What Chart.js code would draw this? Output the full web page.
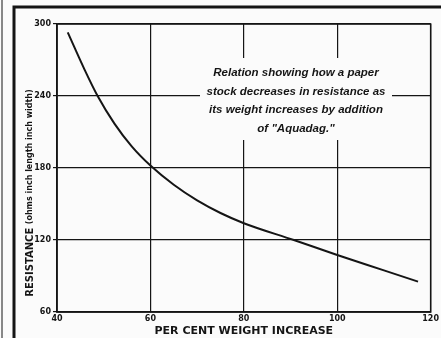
<!DOCTYPE html>
<html>
<head>
<meta charset="utf-8">
<script src="https://cdn.jsdelivr.net/npm/chart.js@4/dist/chart.umd.min.js"></script>
<style>
html,body{margin:0;padding:0;background:#fbfbfb;}
#wrap{width:441px;height:338px;position:relative;}
</style>
</head>
<body>
<div id="wrap"><canvas id="c" width="441" height="338"></canvas></div>
<script>
// Data
const weightIncrease = [42.3, 45.9, 48.7, 52.3, 56, 60, 65, 70, 75, 80, 90.7, 100, 110, 117.3];
const resistance     = [293, 262, 240, 217, 198, 182, 166, 153, 142.5, 134, 120, 107.5, 94.7, 85.3];
const xTitle = 'PER CENT WEIGHT INCREASE';
const yTitleCaps = 'RESISTANCE';
const yTitleRest = '(ohms inch length inch width)';
const noteLines = ['Relation showing how a paper', 'stock decreases in resistance as', 'its weight increases by addition', 'of "Aquadag."'];

const ink = '#151515';

const framePlugin = {
  id: 'frame',
  beforeDraw(chart) {
    const ctx = chart.ctx;
    ctx.save();
    ctx.fillStyle = '#fbfbfb';
    ctx.fillRect(0, 0, chart.width, chart.height);
    ctx.strokeStyle = ink;
    ctx.lineWidth = 3;
    ctx.beginPath();
    ctx.moveTo(14, 338); ctx.lineTo(14, 7); ctx.lineTo(441, 7);
    ctx.stroke();
    ctx.lineWidth = 1;
    ctx.beginPath();
    ctx.moveTo(2, 0); ctx.lineTo(2, 338);
    ctx.stroke();
    ctx.restore();
  },
  afterDatasetsDraw(chart) {
    const ctx = chart.ctx;
    const a = chart.chartArea;
    ctx.save();
    // plot border
    ctx.strokeStyle = ink;
    ctx.lineWidth = 1.5;
    ctx.strokeRect(a.left, a.top, a.right - a.left, a.bottom - a.top);
    // annotation box (blanks the grid behind the note)
    ctx.fillStyle = '#fbfbfb';
    ctx.fillRect(200, 58, 192, 82);
    ctx.fillStyle = ink;
    ctx.textAlign = 'center';
    ctx.textBaseline = 'middle';
    ctx.font = 'italic bold 11.5px "Liberation Sans"';
    const ys = [73, 92, 110, 129];
    noteLines.forEach((t, i) => ctx.fillText(t, 296, ys[i]));
    // y-axis title
    ctx.translate(30, 193);
    ctx.rotate(-Math.PI / 2);
    ctx.textAlign = 'left';
    ctx.font = 'bold 10px "DejaVu Sans"';
    const f2 = 'bold 8px "DejaVu Sans"';
    const w1 = ctx.measureText(yTitleCaps + ' ').width;
    ctx.font = f2;
    const w2 = ctx.measureText(yTitleRest).width;
    const start = -(w1 + w2) / 2;
    ctx.font = 'bold 10px "DejaVu Sans"';
    ctx.fillText(yTitleCaps, start, 0);
    ctx.font = f2;
    ctx.fillText(yTitleRest, start + w1, 0);
    ctx.restore();
  }
};

new Chart(document.getElementById('c'), {
  type: 'line',
  data: {
    datasets: [{
      data: weightIncrease.map((x, i) => ({x, y: resistance[i]})),
      borderColor: ink,
      borderWidth: 2,
      pointRadius: 0,
      cubicInterpolationMode: 'monotone',
      fill: false
    }]
  },
  options: {
    responsive: false,
    animation: false,
    layout: {padding: {left: 0, right: 5, top: 24, bottom: 0}},
    plugins: {legend: {display: false}, tooltip: {enabled: false}},
    scales: {
      x: {
        type: 'linear', min: 40, max: 120,
        afterFit: s => { s.height = 26; },
        ticks: {stepSize: 20, color: ink, font: {family: 'DejaVu Sans', size: 8, weight: 'bold'}, padding: 2, maxRotation: 0},
        grid: {color: ink, lineWidth: 1.2, drawTicks: false},
        border: {color: ink, width: 1.5},
        title: {display: true, text: xTitle, color: ink, font: {family: 'DejaVu Sans', size: 11, weight: 'bold'}, padding: {top: 0, bottom: 0}}
      },
      y: {
        type: 'linear', min: 60, max: 300,
        afterFit: s => { s.width = 57; },
        ticks: {stepSize: 60, color: ink, font: {family: 'DejaVu Sans', size: 8, weight: 'bold'}, padding: 2},
        grid: {color: ink, lineWidth: 1.2, drawTicks: true, tickLength: 4},
        border: {color: ink, width: 1.5},
        title: {display: false}
      }
    }
  },
  plugins: [framePlugin]
});
</script>
</body>
</html>
